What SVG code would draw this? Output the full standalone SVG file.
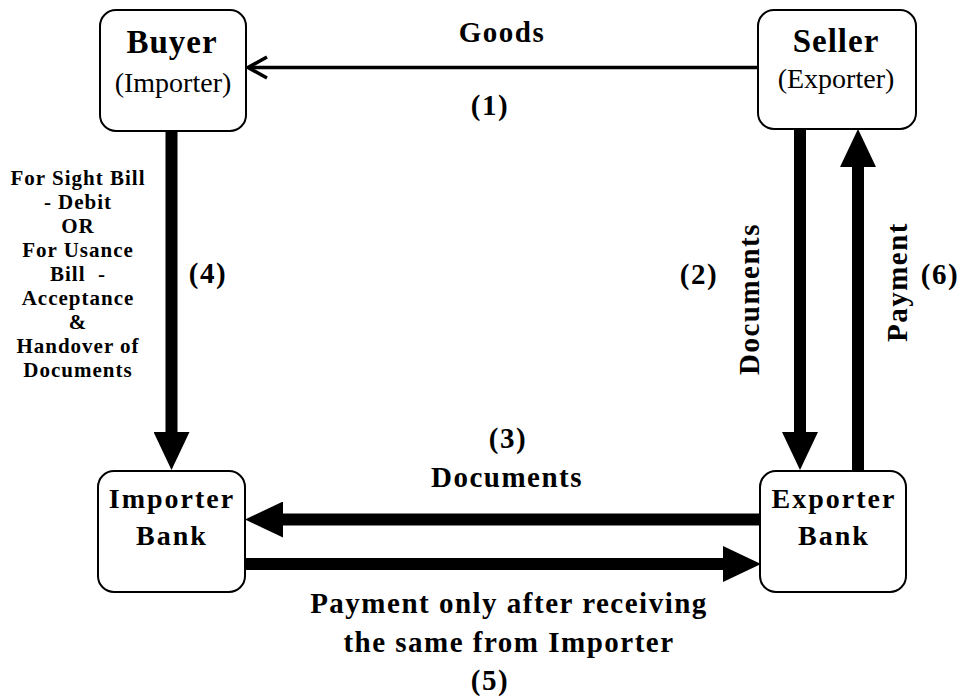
<svg xmlns="http://www.w3.org/2000/svg" width="961" height="699" viewBox="0 0 961 699">
  <defs>
    <style>
      .box { fill: #ffffff; stroke: #000000; stroke-width: 2; }
      .t { font-family: "Liberation Serif", "Times New Roman", serif; fill: #000000; text-anchor: middle; }
      .b { font-weight: bold; }
      .title { font-size: 33px; letter-spacing: 1px; }
      .sub { font-size: 28px; }
      .bank { font-size: 28px; letter-spacing: 2px; }
      .lbl { font-size: 29px; letter-spacing: 1.5px; }
      .note { font-size: 21px; letter-spacing: 1px; }
      .thick { stroke: #000000; stroke-width: 12; fill: none; marker-end: url(#head); }
      .thin { stroke: #000000; stroke-width: 3.5; fill: none; }
    </style>
    <marker id="head" markerUnits="userSpaceOnUse" viewBox="0 0 38 36" refX="1" refY="18" markerWidth="38" markerHeight="36" orient="auto">
      <path d="M0,0 L38,18 L0,36 Z" fill="#000000"/>
    </marker>
  </defs>

  <rect width="961" height="699" fill="#ffffff"/>

  <!-- connectors -->
  <g id="connectors">
    <!-- (1) goods: seller to buyer -->
    <line class="thin" x1="758" y1="67.5" x2="249" y2="67.5"/>
    <polyline class="thin" points="267,57 248,67.5 267,78"/>
    <!-- (4) buyer to importer bank -->
    <line class="thick" x1="171.5" y1="131" x2="171.5" y2="433"/>
    <!-- (2) seller to exporter bank -->
    <line class="thick" x1="800" y1="129" x2="800" y2="433"/>
    <!-- (6) exporter bank to seller -->
    <line class="thick" x1="858" y1="471" x2="858" y2="166"/>
    <!-- (3) exporter bank to importer bank -->
    <line class="thick" x1="760" y1="519.5" x2="282" y2="519.5"/>
    <!-- (5) importer bank to exporter bank -->
    <line class="thick" x1="245" y1="564" x2="724" y2="564"/>
  </g>

  <!-- connector labels -->
  <g id="labels">
    <text class="t b lbl" x="502" y="42">Goods</text>
    <text class="t b lbl" x="490" y="115">(1)</text>
    <text class="t b lbl" x="208" y="283">(4)</text>
    <text class="t b lbl" x="699" y="284">(2)</text>
    <text class="t b lbl" x="940" y="284">(6)</text>
    <text class="t b lbl" transform="translate(759,299) rotate(-90)" x="0" y="0">Documents</text>
    <text class="t b lbl" transform="translate(907,282) rotate(-90)" x="0" y="0">Payment</text>
    <text class="t b lbl" x="508" y="448">(3)</text>
    <text class="t b lbl" x="507" y="487">Documents</text>
    <text class="t b lbl" x="509" y="613">Payment only after receiving</text>
    <text class="t b lbl" x="509" y="652">the same from Importer</text>
    <text class="t b lbl" x="490" y="690">(5)</text>
    <g class="t b note">
      <text x="78" y="185">For Sight Bill</text>
      <text x="78" y="209">- Debit</text>
      <text x="78" y="233">OR</text>
      <text x="78" y="257">For Usance</text>
      <text x="78" y="281">Bill&#160; -</text>
      <text x="78" y="305">Acceptance</text>
      <text x="78" y="329">&amp;</text>
      <text x="78" y="353">Handover of</text>
      <text x="78" y="377">Documents</text>
    </g>
  </g>

  <!-- nodes -->
  <g id="buyer">
    <rect class="box" x="100" y="10" width="146" height="121" rx="16"/>
    <text class="t b title" x="172" y="53">Buyer</text>
    <text class="t sub" x="173" y="92">(Importer)</text>
  </g>
  <g id="seller">
    <rect class="box" x="758" y="10" width="158" height="119" rx="16"/>
    <text class="t b title" x="836" y="52">Seller</text>
    <text class="t sub" x="836" y="88">(Exporter)</text>
  </g>
  <g id="importer-bank">
    <rect class="box" x="98" y="471" width="147" height="121" rx="16"/>
    <text class="t b bank" x="172" y="508">Importer</text>
    <text class="t b bank" x="172" y="545">Bank</text>
  </g>
  <g id="exporter-bank">
    <rect class="box" x="760" y="471" width="146" height="121" rx="16"/>
    <text class="t b bank" x="834" y="508">Exporter</text>
    <text class="t b bank" x="834" y="545">Bank</text>
  </g>
</svg>
